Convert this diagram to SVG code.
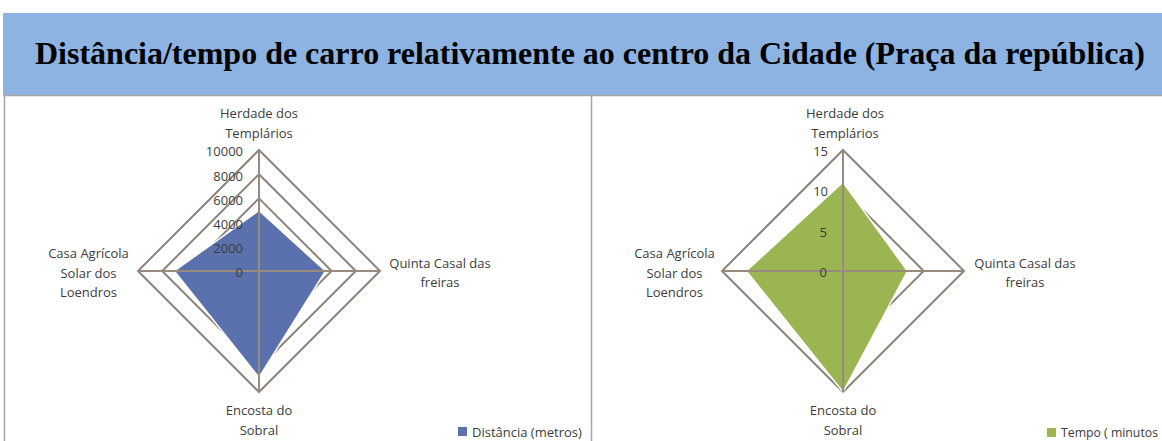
<svg xmlns="http://www.w3.org/2000/svg" width="1162" height="441" viewBox="0 0 1162 441">
<style>
.lbl{font-family:"Open Sans","Liberation Sans",sans-serif;font-size:13px;fill:#3c3c3c;text-anchor:middle}
.tick{font-family:"Open Sans","Liberation Sans",sans-serif;font-size:13px;fill:#3c3c3c;text-anchor:end}
.leg{font-family:"Open Sans","Liberation Sans",sans-serif;font-size:13px;fill:#3c3c3c}
.ring{fill:none;stroke:#8c837b;stroke-width:2}
.axis{stroke:#968b7d;stroke-width:2}
.title{font-family:"Liberation Serif","Times New Roman",serif;font-weight:bold;font-size:32px;fill:#000;text-anchor:middle}
</style>
<rect x="0" y="0" width="1162" height="441" fill="#ffffff"/>
<g id="header">
<rect x="3" y="13" width="1159" height="82" fill="#8db3e2"/>
<text class="title" x="590" y="64" textLength="1110" lengthAdjust="spacingAndGlyphs">Distância/tempo de carro relativamente ao centro da Cidade (Praça da república)</text>
</g>
<g id="frame" stroke="#a6a6a6" stroke-width="1.5" fill="none">
<line x1="3" y1="95.5" x2="1162" y2="95.5"/>
<line x1="4.5" y1="95" x2="4.5" y2="441"/>
<line x1="591.5" y1="95" x2="591.5" y2="441"/>
</g>
<g id="chart-distancia">
<g id="grid-left">
<polygon class="ring" points="259,150 380,271 259,392 138,271"/>
<polygon class="ring" points="259,174.2 355.8,271 259,367.8 162.2,271"/>
<polygon class="ring" points="259,198.4 331.6,271 259,343.6 186.4,271"/>
<polygon class="ring" points="259,222.6 307.4,271 259,319.4 210.6,271"/>
<polygon class="ring" points="259,246.8 283.2,271 259,295.2 234.8,271"/>
</g>
<polygon id="data-left" points="259,210.5 325.5,271 259,377.5 174.3,271" fill="#5b71ad" stroke="#ffffff" stroke-width="1.5"/>
<g id="axes-left">
<line class="axis" x1="259" y1="150" x2="259" y2="392"/>
<line class="axis" x1="138" y1="271" x2="380" y2="271"/>
</g>
<g id="ticks-left">
<text class="tick" x="243" y="156">10000</text>
<text class="tick" x="243" y="180.5">8000</text>
<text class="tick" x="243" y="204.5">6000</text>
<text class="tick" x="243" y="228.5">4000</text>
<text class="tick" x="243" y="252.5">2000</text>
<text class="tick" x="243" y="277">0</text>
</g>
<g id="cat-left-top"><text class="lbl" x="259" y="118">Herdade dos</text><text class="lbl" x="259" y="138">Templários</text></g>
<g id="cat-left-right"><text class="lbl" x="440" y="268">Quinta Casal das</text><text class="lbl" x="440" y="287">freiras</text></g>
<g id="cat-left-bottom"><text class="lbl" x="259" y="415">Encosta do</text><text class="lbl" x="259" y="435">Sobral</text></g>
<g id="cat-left-left"><text class="lbl" x="88.5" y="258">Casa Agrícola</text><text class="lbl" x="88.5" y="278">Solar dos</text><text class="lbl" x="88.5" y="297">Loendros</text></g>
<g id="legend-left">
<rect x="458" y="427" width="9" height="9" fill="#5b71ad"/>
<text class="leg" x="472" y="437">Distância (metros)</text>
</g>
</g>
<g id="chart-tempo">
<g id="grid-right">
<polygon class="ring" points="843,150 964,271 843,392 722,271"/>
<polygon class="ring" points="843,190.3 923.7,271 843,351.7 762.3,271"/>
<polygon class="ring" points="843,230.7 883.3,271 843,311.3 802.7,271"/>
</g>
<polygon id="data-right" points="843,182.3 907.5,271 843,392 746.2,271" fill="#9ab552" stroke="#ffffff" stroke-width="1.5"/>
<g id="axes-right">
<line class="axis" x1="843" y1="150" x2="843" y2="392"/>
<line class="axis" x1="722" y1="271" x2="964" y2="271"/>
</g>
<g id="ticks-right">
<text class="tick" x="828" y="156">15</text>
<text class="tick" x="828" y="196">10</text>
<text class="tick" x="827" y="237">5</text>
<text class="tick" x="827" y="277">0</text>
</g>
<g id="cat-right-top"><text class="lbl" x="845" y="118">Herdade dos</text><text class="lbl" x="845" y="138">Templários</text></g>
<g id="cat-right-right"><text class="lbl" x="1025" y="268">Quinta Casal das</text><text class="lbl" x="1025" y="287">freiras</text></g>
<g id="cat-right-bottom"><text class="lbl" x="843" y="415">Encosta do</text><text class="lbl" x="843" y="435">Sobral</text></g>
<g id="cat-right-left"><text class="lbl" x="674.5" y="258">Casa Agrícola</text><text class="lbl" x="674.5" y="278">Solar dos</text><text class="lbl" x="674.5" y="297">Loendros</text></g>
<g id="legend-right">
<rect x="1047" y="428" width="9" height="9" fill="#9ab552"/>
<text class="leg" x="1061" y="437" textLength="97" lengthAdjust="spacingAndGlyphs">Tempo ( minutos</text>
</g>
</g>
</svg>
